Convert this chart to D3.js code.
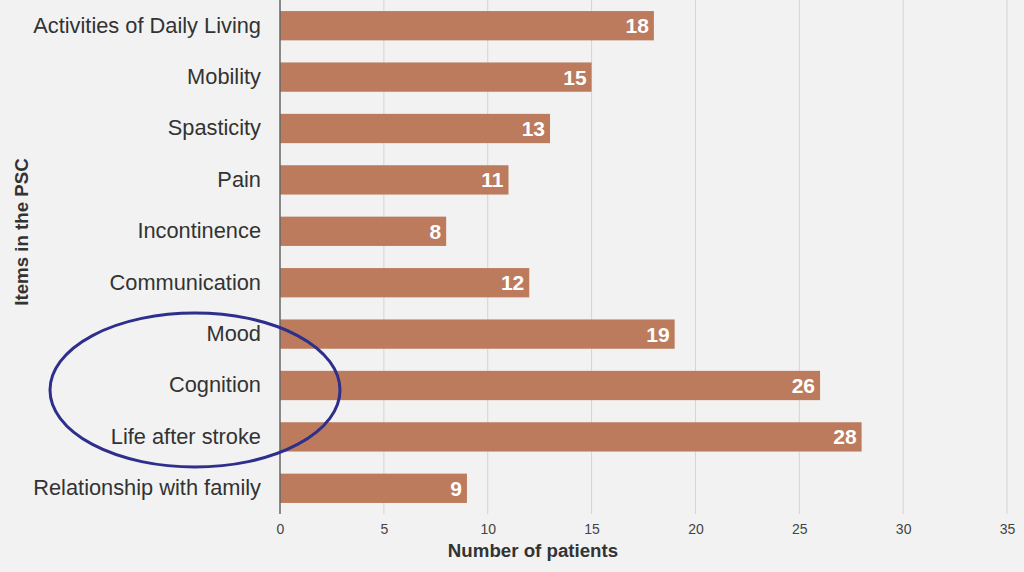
<!DOCTYPE html>
<html><head><meta charset="utf-8">
<script src="https://cdn.jsdelivr.net/npm/d3@7"></script>
<style>body{margin:0;background:#f2f2f2;}svg{display:block;font-family:"Liberation Sans",Arial,sans-serif;}</style>
</head><body>
<script>
const categories = ["Activities of Daily Living","Mobility","Spasticity","Pain","Incontinence","Communication","Mood","Cognition","Life after stroke","Relationship with family"];
const values = [18,15,13,11,8,12,19,26,28,9];
const xTicks = [0,5,10,15,20,25,30,35];
const xTitle = "Number of patients";
const yTitle = "Items in the PSC";

const W=1024,H=572;
const m={left:280,right:17,top:0,bottom:58};
const svg=d3.select("body").append("svg").attr("width",W).attr("height",H);
svg.append("rect").attr("width",W).attr("height",H).attr("fill","#f2f2f2");

const x=d3.scaleLinear().domain([0,35]).range([m.left,W-m.right]);
const y=d3.scaleBand().domain(categories).range([m.top,H-m.bottom]).paddingInner(0.43).paddingOuter(0.215);
const plotBottom=H-m.bottom;

// gridlines
svg.append("g").selectAll("line").data(xTicks.filter(d=>d>0)).join("line")
  .attr("x1",d=>x(d)).attr("x2",d=>x(d)).attr("y1",0).attr("y2",plotBottom)
  .attr("stroke","#d4d4d4").attr("stroke-width",1);

// x axis
const xa=svg.append("g").attr("transform",`translate(0,${plotBottom})`)
  .call(d3.axisBottom(x).tickValues(xTicks).tickSize(0).tickPadding(10));
xa.select(".domain").remove();
xa.selectAll("text").attr("font-size",14).attr("fill","#444").attr("font-family","Liberation Sans, Arial, sans-serif");

// bars
svg.append("g").selectAll("rect").data(values).join("rect")
  .attr("x",x(0)).attr("y",(d,i)=>y(categories[i])).attr("width",d=>x(d)-x(0)).attr("height",y.bandwidth())
  .attr("fill","#bb7b5c");

// zero axis line
svg.append("line").attr("x1",x(0)).attr("x2",x(0)).attr("y1",0).attr("y2",plotBottom)
  .attr("stroke","#666").attr("stroke-width",1.5);

// y labels
const ya=svg.append("g").attr("transform",`translate(${x(0)},0)`)
  .call(d3.axisLeft(y).tickSize(0).tickPadding(19));
ya.select(".domain").remove();
ya.selectAll("text").attr("font-size",21.8).attr("fill","#333").attr("font-family","Liberation Sans, Arial, sans-serif");

// value labels
svg.append("g").selectAll("text").data(values).join("text")
  .attr("x",d=>x(d)-5).attr("y",(d,i)=>y(categories[i])+y.bandwidth()/2)
  .attr("dy","0.36em").attr("text-anchor","end").attr("font-size",21).attr("font-weight","bold")
  .attr("fill","#fff").text(d=>d);

// axis titles
svg.append("text").attr("x",533).attr("y",557).attr("text-anchor","middle")
  .attr("font-size",18.7).attr("font-weight","bold").attr("fill","#333").text(xTitle);
svg.append("text").attr("transform","translate(28,232) rotate(-90)").attr("text-anchor","middle")
  .attr("font-size",18.7).attr("font-weight","bold").attr("fill","#333").text(yTitle);

// annotation ellipse
svg.append("ellipse").attr("cx",195).attr("cy",390).attr("rx",145).attr("ry",77)
  .attr("fill","none").attr("stroke","#2e2e8c").attr("stroke-width",3);
</script>
</body></html>
